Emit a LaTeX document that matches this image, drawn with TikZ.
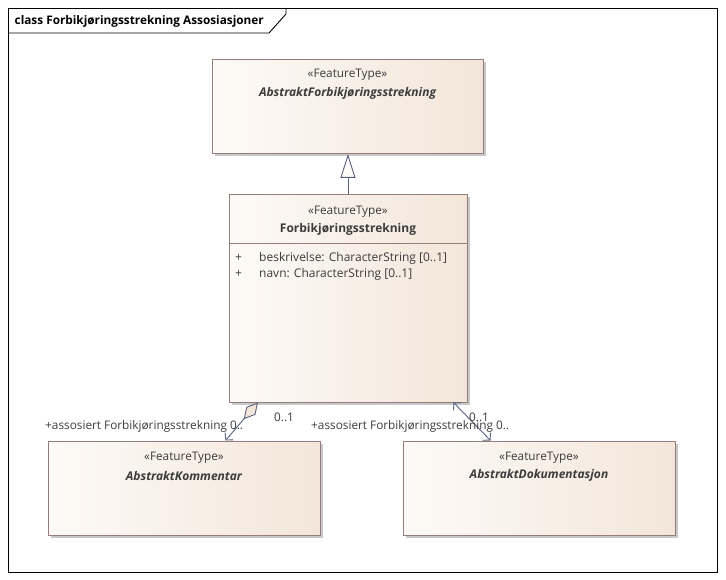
\documentclass[tikz,border=0pt]{standalone}
\usepackage{fontspec}
\setmainfont{Open Sans}
\usetikzlibrary{arrows.meta,shadows}
\definecolor{boxline}{RGB}{150,125,125}
\definecolor{fillL}{RGB}{253,250,247}
\definecolor{fillR}{RGB}{243,230,217}
\definecolor{txt}{RGB}{60,60,60}
\definecolor{conn}{RGB}{90,96,128}
\definecolor{shad}{RGB}{200,200,200}
\tikzset{
  umlbox/.style={draw=boxline, line width=0.9pt, left color=fillL, right color=fillR,
    anchor=north west, inner sep=0pt,
    drop shadow={shadow xshift=3pt, shadow yshift=-3pt, fill=shad, opacity=1}},
  stereo/.style={font=\fontsize{11.8}{13}\selectfont, text=txt, inner sep=0pt},
  cname/.style={font=\fontsize{12}{14}\selectfont\bfseries\itshape, text=txt, inner sep=0pt},
  cnamer/.style={font=\fontsize{12}{14}\selectfont\bfseries, text=txt, inner sep=0pt},
  attr/.style={font=\fontsize{12}{14}\selectfont, text=txt, inner sep=0pt, anchor=west},
  lbl/.style={font=\fontsize{11.8}{13}\selectfont, text=txt, inner sep=0pt},
  connline/.style={draw=conn, line width=0.9pt},
}
\begin{document}
\begin{tikzpicture}[x=1pt,y=-1pt]
\useasboundingbox (0,0) rectangle (726,580);
% frame
\draw[black, line width=0.9pt] (8,8) rectangle (717,572);
\draw[black, line width=0.9pt] (8,33) -- (269,33) -- (286,14) -- (286,8);
\node[anchor=west, inner sep=0pt, font=\fontsize{11.8}{13}\selectfont\bfseries] (title) at (14.5,21) {class Forbikjøringsstrekning Assosiasjoner};

% boxes
\node[umlbox, minimum width=271pt, minimum height=94pt] (a) at (212,59) {};
\node[stereo] (a1) at (347.5,75) {«FeatureType»};
\node[cname] (a2) at (347.5,93.5) {AbstraktForbikjøringsstrekning};

\node[umlbox, minimum width=238pt, minimum height=208pt] (f) at (229,194) {};
\node[stereo] (f1) at (348,211.5) {«FeatureType»};
\node[cnamer] (f2) at (348,229) {Forbikjøringsstrekning};
\draw[boxline, line width=0.9pt] (229,243) coordinate (sepL) -- (467,243) coordinate (sepR);
\node[attr] (p1) at (235,258) {+};
\node[attr] (t1) at (259,258) {beskrivelse: CharacterString [0..1]};
\node[attr] (p2) at (235,274) {+};
\node[attr] (t2) at (259,274) {navn: CharacterString [0..1]};

\node[umlbox, minimum width=272pt, minimum height=94pt] (k) at (48,441) {};
\node[stereo] (k1) at (184,458) {«FeatureType»};
\node[cname] (k2) at (184,475.5) {AbstraktKommentar};

\node[umlbox, minimum width=272pt, minimum height=94pt] (d) at (403,441) {};
\node[stereo] (d1) at (539,458) {«FeatureType»};
\node[cname] (d2) at (539,475.5) {AbstraktDokumentasjon};

% generalization
\draw[connline, -{Triangle[length=24pt,width=15pt,fill=fillL]}] (f.north -| a.south) -- (a.south);

% association 1 (aggregation)
\coordinate (s1) at (258,402.5);
\coordinate (e1) at (225.5,440.5);
\draw[connline, {Diamond[length=22pt,width=12pt,fill=fillR]}-{Straight Barb[length=5pt,width=11pt]}] (s1) -- (e1);

% association 2
\coordinate (s2) at (453.5,402.5);
\coordinate (e2) at (490.5,440.5);
\draw[connline, {Straight Barb[length=5pt,width=11pt]}-{Straight Barb[length=5pt,width=11pt]}] (s2) -- (e2);

% labels
\node[lbl, anchor=west] (l1) at (45,426) {+assosiert Forbikjøringsstrekning 0..};
\node[lbl, anchor=west] (m1) at (274,417) {0..1};
\node[lbl, anchor=west] (l2) at (311,426) {+assosiert Forbikjøringsstrekning 0..};
\node[lbl, anchor=west] (m2) at (469,417) {0..1};
\end{tikzpicture}
\end{document}
